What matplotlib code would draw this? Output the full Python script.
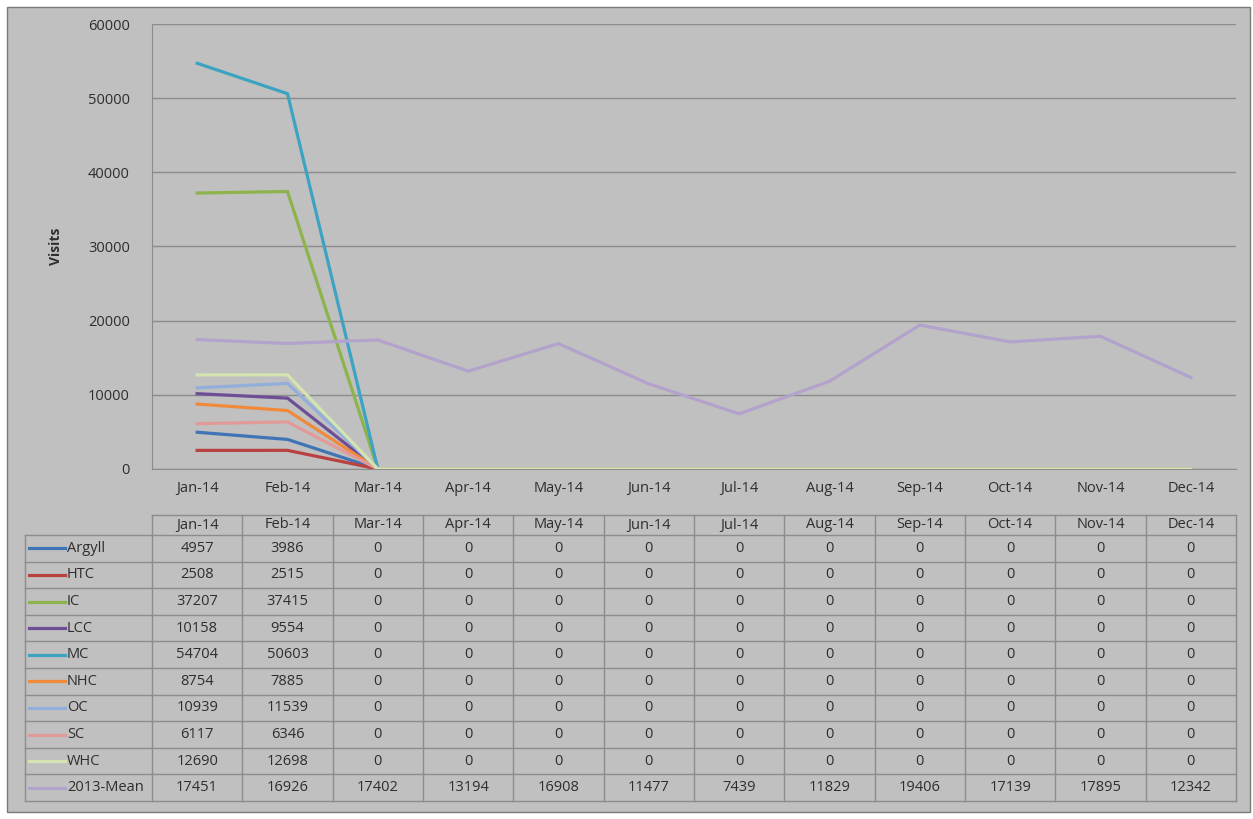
import numpy as np
import matplotlib
matplotlib.use('Agg')
import matplotlib.pyplot as plt
from matplotlib.patches import Rectangle

# month labels and series values (visits)
months = ['Jan-14', 'Feb-14', 'Mar-14', 'Apr-14', 'May-14', 'Jun-14',
          'Jul-14', 'Aug-14', 'Sep-14', 'Oct-14', 'Nov-14', 'Dec-14']
names = ['Argyll', 'HTC', 'IC', 'LCC', 'MC', 'NHC', 'OC', 'SC', 'WHC', '2013-Mean']
argyll = [4957, 3986, 0, 0, 0, 0, 0, 0, 0, 0, 0, 0]
htc = [2508, 2515, 0, 0, 0, 0, 0, 0, 0, 0, 0, 0]
ic = [37207, 37415, 0, 0, 0, 0, 0, 0, 0, 0, 0, 0]
lcc = [10158, 9554, 0, 0, 0, 0, 0, 0, 0, 0, 0, 0]
mc = [54704, 50603, 0, 0, 0, 0, 0, 0, 0, 0, 0, 0]
nhc = [8754, 7885, 0, 0, 0, 0, 0, 0, 0, 0, 0, 0]
oc = [10939, 11539, 0, 0, 0, 0, 0, 0, 0, 0, 0, 0]
sc = [6117, 6346, 0, 0, 0, 0, 0, 0, 0, 0, 0, 0]
whc = [12690, 12698, 0, 0, 0, 0, 0, 0, 0, 0, 0, 0]
mean2013 = [17451, 16926, 17402, 13194, 16908, 11477, 7439, 11829, 19406, 17139, 17895, 12342]
series = [argyll, htc, ic, lcc, mc, nhc, oc, sc, whc, mean2013]
colors = ['#3f74b5', '#b94240', '#8db44c', '#6e4f96', '#3ca3c0', '#f08a3a',
          '#92aedb', '#e19a98', '#d3e4b0', '#b3a2cc']

plt.rcParams['font.family'] = ['Open Sans', 'DejaVu Sans']
txt = '#2e2e2e'
bg = '#c0c0c0'
grid = '#8c8c8c'
fs = 10.5

W, H = 1253, 819
fig = plt.figure(figsize=(W / 100, H / 100), dpi=100, facecolor='white')

# full-figure axes in pixel coords for frame and data table
bgax = fig.add_axes([0, 0, 1, 1])
bgax.set_xlim(0, W)
bgax.set_ylim(H, 0)
bgax.axis('off')
bgax.add_patch(Rectangle((7, 7), 1243, 805, facecolor=bg, edgecolor='#7a7a7a', lw=1))

# chart area
x0, x1, y0, y1 = 152, 1236, 24, 469
ax = fig.add_axes([x0 / W, 1 - y1 / H, (x1 - x0) / W, (y1 - y0) / H])
ax.set_facecolor('none')
x = np.arange(len(months))
for s, c in zip(series, colors):
    ax.plot(x, s, color=c, lw=2.3, solid_joinstyle='miter', zorder=3)
ax.set_xlim(-0.5, len(months) - 0.5)
ax.set_ylim(0, 60000)
ax.set_yticks(np.arange(0, 60001, 10000))
ax.yaxis.grid(True, color=grid, lw=1)
ax.set_axisbelow(True)
ax.set_xticks(x)
ax.set_xticklabels(months)
ax.tick_params(axis='both', length=0, labelsize=fs, colors=txt)
ax.tick_params(axis='x', pad=9)
ax.tick_params(axis='y', pad=16)
for sp in ['top', 'right']:
    ax.spines[sp].set_visible(False)
for sp in ['left', 'bottom']:
    ax.spines[sp].set_color(grid)
ax.set_ylabel('Visits', fontsize=fs - 0.5, fontweight='bold', color=txt, labelpad=18)

# data table below the chart
cw = (x1 - x0) / len(months)
ht, hb = 515, 535
rh = (801 - hb) / len(names)
tl = 25
lc = '#8c8c8c'
bgax.plot([x0, x1], [ht, ht], color=lc, lw=1)
bgax.plot([tl, x1], [hb, hb], color=lc, lw=1)
for i in range(len(names)):
    yb = hb + rh * (i + 1)
    bgax.plot([tl, x1], [yb, yb], color=lc, lw=1)
bgax.plot([tl, tl], [hb, 801], color=lc, lw=1)
for j in range(len(months) + 1):
    bgax.plot([x0 + j * cw] * 2, [ht, 801], color=lc, lw=1)
for j, m in enumerate(months):
    bgax.text(x0 + (j + 0.5) * cw, (ht + hb) / 2, m, ha='center', va='center',
              fontsize=fs, color=txt)
for i, (n, s, c) in enumerate(zip(names, series, colors)):
    yc = hb + rh * (i + 0.5)
    bgax.plot([29, 65], [yc, yc], color=c, lw=2.3)
    bgax.text(67, yc, n, ha='left', va='center', fontsize=fs, color=txt)
    for j, v in enumerate(s):
        bgax.text(x0 + (j + 0.5) * cw, yc, str(v), ha='center', va='center',
                  fontsize=fs, color=txt)

fig.savefig('out.png', dpi=100, facecolor='white')
